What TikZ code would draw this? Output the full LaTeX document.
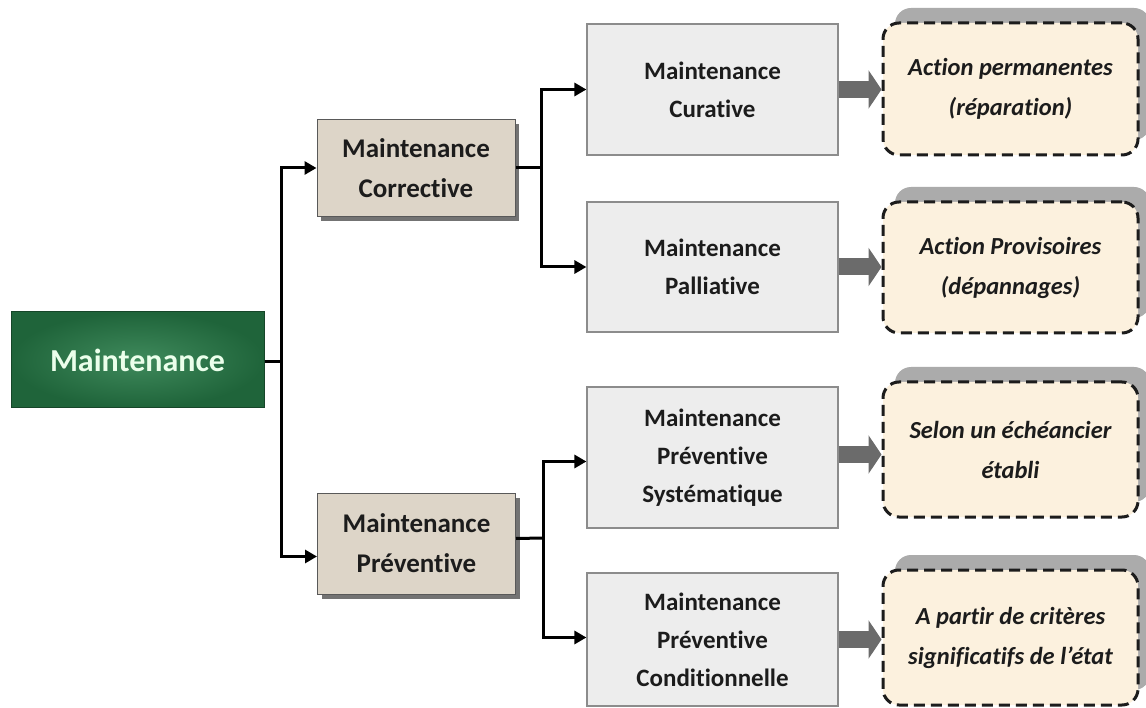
\documentclass[tikz,border=0pt]{standalone}
\usepackage{fontspec}
\setmainfont{Carlito}[Ligatures=NoCommon]
\usetikzlibrary{arrows.meta,shadows,calc}
\definecolor{mgreen}{HTML}{1F643A}
\definecolor{mgreenlight}{HTML}{3F8A5C}
\definecolor{beige}{HTML}{DDD5C8}
\definecolor{lgray}{HTML}{EDEDED}
\definecolor{bgray}{HTML}{8C8C8C}
\definecolor{cream}{HTML}{FCF1DE}
\definecolor{arrgray}{HTML}{6B6B6B}
\definecolor{shgray}{HTML}{ABABAB}
\definecolor{txt}{HTML}{1C1C1C}
\begin{document}
\begin{tikzpicture}[x=1pt,y=-1pt,
  box/.style={rectangle, inner sep=0pt, align=center, text=txt,
    font=\fontsize{25}{38}\selectfont\bfseries},
  mainbox/.style={box, minimum width=253pt, minimum height=96pt,
    inner color=mgreenlight, outer color=mgreen, draw=mgreen!70!black, line width=1pt,
    text=white!92!green, font=\fontsize{32}{38}\selectfont\bfseries},
  levelbox/.style={box, minimum width=198pt, minimum height=97pt,
    fill=beige, draw=black!65, line width=1pt,
    font=\fontsize{27}{40}\selectfont\bfseries,
    general shadow={fill=black!55, shadow xshift=4pt, shadow yshift=-5pt}},
  typebox/.style={box, minimum width=251pt, minimum height=131pt,
    fill=lgray, draw=bgray, line width=1.2pt},
  actbox/.style={box, minimum width=255pt, minimum height=132pt,
    fill=cream, draw=txt, line width=3pt, dash pattern=on 11pt off 6pt,
    rounded corners=16pt,
    font=\fontsize{24.5}{40}\selectfont\bfseries\itshape,
    general shadow={fill=shgray, draw=none, shadow xshift=12pt, shadow yshift=15pt}},
  conn/.style={draw=black, line width=3pt},
  arr/.style={conn, -{Triangle[length=12pt,width=13pt]}},
  garr/.style={draw=arrgray, line width=17pt, -{Triangle[length=13pt,width=38pt]}}
]
\useasboundingbox (0,0) rectangle (1146,708);

% level 0
\node[mainbox] (main) at (137.5,360) {Maintenance};

% level 1
\node[levelbox] (corr) at (416,168) {Maintenance\\Corrective};
\node[levelbox, minimum height=101pt] (prev) at (416.5,543.5) {Maintenance\\Préventive};

% level 2
\node[typebox] (cur) at (712.5,89.5) {Maintenance\\Curative};
\node[typebox, minimum height=130pt] (pal) at (712.5,267) {Maintenance\\Palliative};
\node[typebox, minimum height=141pt] (sys) at (712.5,457.5) {Maintenance\\Préventive\\Systématique};
\node[typebox, minimum height=133pt] (cond) at (712.5,639.5) {Maintenance\\Préventive\\Conditionnelle};

% level 3
\node[actbox] (a1) at (1010.5,89) {Action permanentes\\(réparation)};
\node[actbox, minimum height=131pt] (a2) at (1010.5,267.5) {Action Provisoires\\(dépannages)};
\node[actbox, minimum height=135pt] (a3) at (1010.5,449.5) {Selon un échéancier\\établi};
\node[actbox, minimum height=135pt] (a4) at (1010.5,637.5) {A partir de critères\\significatifs de l’état};

% connectors level 0 -> 1
\coordinate (j1) at (281,362);
\draw[conn] (main.east |- j1) -- (j1);
\draw[arr] (j1) |- (corr.west);
\draw[arr] (j1) |- ([yshift=-13pt]prev.west);

% connectors corrective -> 2
\coordinate (j2) at (541,168);
\draw[conn] (corr.east) -- (j2);
\draw[arr] (j2) |- (cur.west);
\draw[arr] (j2) |- (pal.west);

% connectors preventive -> 2
\coordinate (j3) at (543,538);
\draw[conn] ([yshift=5pt]prev.east) -- (j3);
\draw[arr] (j3) |- ([yshift=-4pt]sys.west);
\draw[arr] (j3) |- ([yshift=2pt]cond.west);

% grey arrows 2 -> 3
\draw[garr] (cur.east) -- (cur.east -| a1.west);
\draw[garr] (pal.east) -- (pal.east -| a2.west);
\draw[garr] ([yshift=3pt]sys.east) -- ([yshift=3pt]sys.east -| a3.west);
\draw[garr] (cond.east) -- (cond.east -| a4.west);
\end{tikzpicture}
\end{document}
